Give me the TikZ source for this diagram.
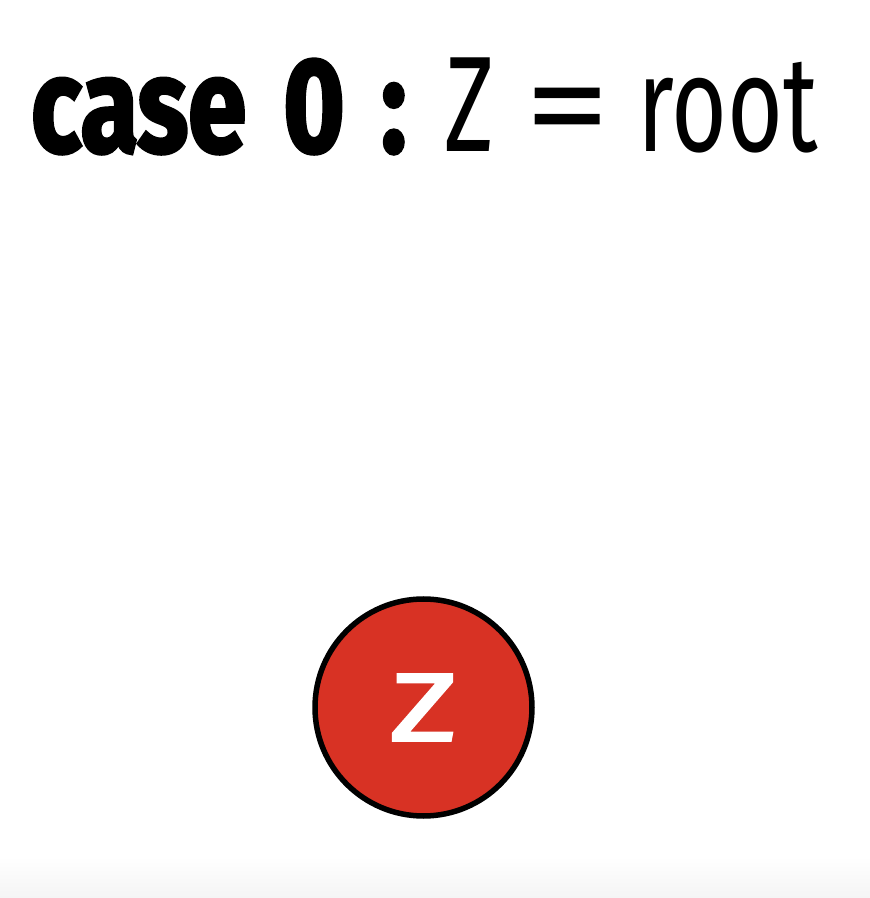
\documentclass[tikz,border=0pt]{standalone}
\usepackage{fontspec}
\setmainfont{Fira Sans}
\newfontfamily\boldnarrow{Fira Sans}[FakeStretch=0.78, BoldFeatures={FakeBold=2.2}]
\newfontfamily\plainnarrow{Fira Sans}[FakeStretch=0.705]
\newfontfamily\labelfont{Fira Sans}[FakeBold=2.6]
\definecolor{nodered}{RGB}{216,50,36}
\begin{document}
\begin{tikzpicture}[x=1pt,y=1pt,
  heading/.style={anchor=base west, inner sep=0pt, font=\boldnarrow\bfseries\fontsize{135}{135}\selectfont},
  formula/.style={anchor=base west, inner sep=0pt, font=\plainnarrow\fontsize{136}{136}\selectfont},
  treenode/.style={circle, draw=black, line width=5.5pt, fill=nodered, minimum size=217pt, inner sep=0pt}]
  % canvas and faint floor shading
  \useasboundingbox (0,0) rectangle (870,898);
  \fill[white] (0,0) rectangle (870,898);
  \shade[top color=white, bottom color=black!4] (0,0) rectangle (870,42);

  % heading: case 0 : Z = root
  \node[heading] (case) at (31,746) {case};
  \node[heading] (zero) at (283,746) {0};
  \node[heading] (colon) at (381,746) {:};
  \node[formula] (zvar) at (444,746) {Z};
  \node[formula, font=\fontsize{136}{136}\selectfont] (eq) at (524,746) {\scalebox{1.27}[1]{=}};
  \node[formula] (root) at (637,746) {root};

  % the single node Z
  \node[treenode] (z) at (423.5,190.5) {};
  \node[text=white, font=\labelfont\fontsize{96}{96}\selectfont, inner sep=0pt] (zlabel) at (z.center) {\scalebox{1.35}[1]{Z}};
\end{tikzpicture}
\end{document}
